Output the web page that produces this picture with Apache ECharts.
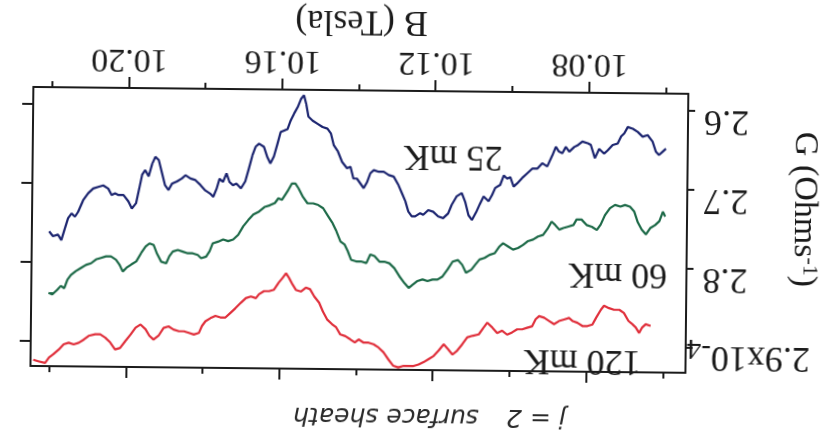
<!DOCTYPE html>
<html>
<head>
<meta charset="utf-8">
<script src="https://cdn.jsdelivr.net/npm/echarts@6/dist/echarts.min.js"></script>
<style>
  html, body { margin: 0; padding: 0; background: #fff; overflow: hidden; }
  #chart { width: 838px; height: 441px; transform: rotate(180.6deg); transform-origin: 50% 50%; background: #fff; }
</style>
</head>
<body>
<div id="chart"></div>
<script>
// Axis ticks
const fieldMajor = [10.08, 10.12, 10.16, 10.20];
const fieldMinor = [10.06, 10.10, 10.14, 10.18, 10.22];
const condTicks = [2.6, 2.7, 2.8, 2.9];

// 25 mK trace: field B (T) and conductance G (1e-4 ohm^-1)
const b25 = [10.2205,10.2195,10.2182,10.2173,10.2164,10.2156,10.2147,10.2138,10.2130,10.2117,
  10.2104,10.2091,10.2078,10.2065,10.2052,10.2043,10.2034,10.2025,10.2012,10.1999,
  10.1990,10.1979,10.1971,10.1964,10.1956,10.1947,10.1938,10.1930,10.1921,10.1912,
  10.1904,10.1895,10.1886,10.1873,10.1860,10.1851,10.1838,10.1825,10.1812,10.1799,
  10.1786,10.1778,10.1769,10.1762,10.1753,10.1744,10.1736,10.1727,10.1718,10.1706,
  10.1695,10.1686,10.1677,10.1669,10.1660,10.1647,10.1638,10.1630,10.1621,10.1612,
  10.1604,10.1595,10.1586,10.1578,10.1569,10.1560,10.1551,10.1544,10.1538,10.1532,
  10.1521,10.1508,10.1495,10.1482,10.1473,10.1465,10.1454,10.1443,10.1430,10.1421,
  10.1413,10.1404,10.1395,10.1386,10.1377,10.1369,10.1360,10.1347,10.1334,10.1321,
  10.1308,10.1295,10.1286,10.1277,10.1269,10.1260,10.1251,10.1238,10.1230,10.1217,
  10.1204,10.1191,10.1178,10.1165,10.1156,10.1143,10.1130,10.1121,10.1112,10.1103,
  10.1092,10.1082,10.1073,10.1060,10.1051,10.1043,10.1030,10.1021,10.1012,10.1004,
  10.0995,10.0986,10.0973,10.0960,10.0947,10.0934,10.0921,10.0908,10.0895,10.0886,
  10.0878,10.0869,10.0860,10.0851,10.0838,10.0830,10.0817,10.0803,10.0795,10.0784,
  10.0773,10.0760,10.0751,10.0738,10.0725,10.0716,10.0708,10.0699,10.0686,10.0673,
  10.0660,10.0647,10.0634,10.0625,10.0617,10.0608,10.0599];
const g25 = [2.761,2.767,2.765,2.772,2.757,2.744,2.738,2.742,2.736,2.721,
  2.712,2.706,2.704,2.702,2.706,2.714,2.712,2.714,2.714,2.722,
  2.731,2.724,2.705,2.688,2.682,2.690,2.674,2.665,2.669,2.686,
  2.701,2.707,2.699,2.696,2.692,2.688,2.692,2.694,2.700,2.707,
  2.711,2.715,2.704,2.692,2.696,2.685,2.696,2.700,2.698,2.704,
  2.695,2.679,2.662,2.651,2.647,2.651,2.664,2.672,2.663,2.647,
  2.632,2.630,2.628,2.617,2.608,2.600,2.589,2.585,2.596,2.612,
  2.617,2.621,2.625,2.627,2.633,2.648,2.656,2.669,2.677,2.675,
  2.690,2.690,2.696,2.702,2.694,2.683,2.679,2.681,2.681,2.685,
  2.687,2.698,2.708,2.718,2.731,2.737,2.737,2.733,2.735,2.729,
  2.731,2.737,2.739,2.733,2.722,2.711,2.707,2.718,2.735,2.741,
  2.731,2.720,2.711,2.717,2.709,2.700,2.696,2.684,2.688,2.686,
  2.698,2.694,2.687,2.681,2.675,2.675,2.668,2.672,2.658,2.647,
  2.653,2.655,2.647,2.653,2.647,2.645,2.640,2.642,2.644,2.661,
  2.649,2.655,2.651,2.644,2.642,2.633,2.629,2.621,2.623,2.627,
  2.633,2.631,2.639,2.652,2.656,2.652,2.648];

// 60 mK trace
const b60 = [10.2205,10.2195,10.2182,10.2173,10.2164,10.2156,10.2147,10.2134,10.2121,10.2108,
  10.2095,10.2082,10.2069,10.2056,10.2043,10.2030,10.2021,10.2012,10.2002,10.1990,
  10.1977,10.1964,10.1953,10.1943,10.1932,10.1924,10.1912,10.1899,10.1891,10.1882,
  10.1869,10.1856,10.1843,10.1830,10.1817,10.1808,10.1795,10.1786,10.1778,10.1765,
  10.1751,10.1738,10.1725,10.1712,10.1699,10.1686,10.1673,10.1658,10.1643,10.1630,
  10.1617,10.1608,10.1599,10.1591,10.1582,10.1573,10.1564,10.1556,10.1544,10.1532,
  10.1517,10.1504,10.1491,10.1478,10.1466,10.1456,10.1445,10.1434,10.1426,10.1417,
  10.1404,10.1391,10.1377,10.1367,10.1356,10.1343,10.1330,10.1317,10.1304,10.1291,
  10.1277,10.1266,10.1256,10.1243,10.1230,10.1217,10.1204,10.1191,10.1178,10.1165,
  10.1152,10.1138,10.1127,10.1117,10.1103,10.1092,10.1082,10.1069,10.1056,10.1043,
  10.1030,10.1021,10.1008,10.0995,10.0982,10.0969,10.0956,10.0943,10.0930,10.0917,
  10.0904,10.0895,10.0886,10.0875,10.0864,10.0851,10.0838,10.0830,10.0817,10.0803,
  10.0790,10.0777,10.0767,10.0756,10.0743,10.0730,10.0716,10.0704,10.0691,10.0680,
  10.0671,10.0660,10.0649,10.0638,10.0625,10.0614,10.0605,10.0599];
const g60 = [2.839,2.841,2.835,2.830,2.833,2.822,2.816,2.811,2.807,2.803,
  2.801,2.796,2.794,2.792,2.792,2.796,2.802,2.811,2.806,2.802,
  2.798,2.787,2.779,2.775,2.777,2.787,2.798,2.800,2.791,2.785,
  2.783,2.785,2.787,2.787,2.789,2.793,2.791,2.784,2.774,2.772,
  2.769,2.771,2.769,2.763,2.752,2.744,2.737,2.733,2.727,2.725,
  2.722,2.716,2.718,2.712,2.705,2.697,2.697,2.703,2.714,2.722,
  2.722,2.724,2.728,2.738,2.747,2.757,2.770,2.774,2.782,2.793,
  2.795,2.795,2.797,2.786,2.788,2.795,2.795,2.797,2.803,2.813,
  2.822,2.828,2.824,2.819,2.817,2.819,2.817,2.817,2.813,2.804,
  2.794,2.792,2.798,2.808,2.804,2.797,2.791,2.789,2.785,2.783,
  2.774,2.770,2.774,2.778,2.776,2.772,2.767,2.765,2.761,2.759,
  2.750,2.742,2.746,2.752,2.750,2.748,2.746,2.739,2.739,2.746,
  2.748,2.752,2.745,2.733,2.724,2.720,2.722,2.720,2.722,2.728,
  2.741,2.751,2.757,2.749,2.745,2.740,2.728,2.734];

// 120 mK trace
const b120 = [10.2243,10.2230,10.2212,10.2202,10.2191,10.2177,10.2164,10.2151,10.2138,10.2125,
  10.2112,10.2099,10.2082,10.2069,10.2056,10.2043,10.2030,10.2017,10.2003,10.1990,
  10.1977,10.1964,10.1951,10.1941,10.1930,10.1917,10.1904,10.1891,10.1878,10.1864,
  10.1851,10.1838,10.1825,10.1812,10.1804,10.1795,10.1782,10.1769,10.1756,10.1743,
  10.1730,10.1717,10.1703,10.1690,10.1677,10.1664,10.1656,10.1643,10.1630,10.1617,
  10.1605,10.1595,10.1586,10.1578,10.1569,10.1560,10.1547,10.1534,10.1523,10.1512,
  10.1499,10.1489,10.1478,10.1465,10.1454,10.1443,10.1430,10.1417,10.1405,10.1395,
  10.1382,10.1369,10.1356,10.1343,10.1330,10.1317,10.1304,10.1291,10.1277,10.1264,
  10.1251,10.1238,10.1225,10.1212,10.1199,10.1186,10.1173,10.1162,10.1150,10.1138,
  10.1125,10.1112,10.1099,10.1082,10.1069,10.1060,10.1047,10.1034,10.1021,10.1008,
  10.0995,10.0982,10.0969,10.0956,10.0943,10.0934,10.0925,10.0912,10.0899,10.0886,
  10.0873,10.0860,10.0847,10.0837,10.0825,10.0812,10.0799,10.0786,10.0776,10.0764,
  10.0756,10.0743,10.0730,10.0716,10.0704,10.0692,10.0682,10.0673,10.0664,10.0656,
  10.0647,10.0634];
const g120 = [2.924,2.926,2.928,2.921,2.917,2.911,2.904,2.902,2.904,2.902,
  2.898,2.893,2.891,2.891,2.895,2.901,2.910,2.908,2.899,2.891,
  2.882,2.878,2.884,2.892,2.897,2.892,2.882,2.880,2.884,2.886,
  2.886,2.888,2.890,2.888,2.879,2.873,2.869,2.866,2.868,2.868,
  2.862,2.856,2.849,2.843,2.841,2.843,2.838,2.834,2.834,2.832,
  2.823,2.817,2.811,2.817,2.825,2.832,2.834,2.829,2.831,2.840,
  2.848,2.859,2.869,2.875,2.879,2.888,2.890,2.894,2.898,2.894,
  2.898,2.898,2.900,2.904,2.910,2.919,2.927,2.929,2.927,2.927,
  2.927,2.925,2.922,2.918,2.914,2.907,2.899,2.905,2.912,2.907,
  2.899,2.890,2.888,2.886,2.877,2.871,2.877,2.884,2.881,2.886,
  2.883,2.879,2.879,2.877,2.875,2.866,2.862,2.864,2.868,2.872,
  2.868,2.866,2.864,2.868,2.870,2.874,2.874,2.872,2.863,2.853,
  2.848,2.851,2.853,2.853,2.857,2.867,2.871,2.875,2.882,2.875,
  2.871,2.873];

const traceNames = ['25 mK', '60 mK', '120 mK'];
const traceColors = ['#1c2570', '#1d6a48', '#e0303c'];

const serif = '"Liberation Serif", "Times New Roman", serif';
const ink = '#1b1b1b';
const pairs = (xs, ys) => xs.map((x, i) => [x, ys[i]]);

const chart = echarts.init(document.getElementById('chart'));

const fieldRange = { min: 10.0542, max: 10.2250 };
const condRange = { min: 2.578, max: 2.932 };
const frame = { color: ink, width: 2 };

function fieldAxis(position, ticks, len, withLine) {
  return {
    type: 'value', gridIndex: 0, position,
    min: fieldRange.min, max: fieldRange.max,
    splitLine: { show: false },
    axisLine: { show: withLine, onZero: false, lineStyle: frame },
    axisTick: { show: true, customValues: ticks, length: len, inside: false, lineStyle: frame },
    axisLabel: { show: false }
  };
}

const bottomMain = fieldAxis('bottom', fieldMajor, 11, true);
bottomMain.axisLabel = {
  show: true, customValues: fieldMajor, margin: 12,
  formatter: v => v.toFixed(2),
  fontFamily: serif, fontSize: 34, color: ink
};
bottomMain.name = 'B (Tesla)';
bottomMain.nameLocation = 'middle';
bottomMain.nameGap = 52;
bottomMain.nameMoveOverlap = false;
bottomMain.nameTextStyle = { fontFamily: serif, fontSize: 36, color: ink };

const option = {
  animation: false,
  backgroundColor: '#fff',
  grid: { left: 151, right: 32, top: 71, bottom: 91, containLabel: false, outerBoundsMode: 'none' },
  xAxis: [
    bottomMain,
    fieldAxis('bottom', fieldMinor, 6, false),
    fieldAxis('top', fieldMajor, 11, true),
    fieldAxis('top', fieldMinor, 6, false)
  ],
  yAxis: [
    {
      type: 'value', gridIndex: 0, position: 'left',
      min: condRange.min, max: condRange.max,
      splitLine: { show: false },
      axisLine: { show: true, onZero: false, lineStyle: frame },
      axisTick: { show: true, customValues: condTicks, length: 7, lineStyle: frame },
      axisLabel: {
        show: true, customValues: condTicks, margin: 1,
        formatter: v => Math.abs(v - 2.9) < 1e-6 ? '{m|2.9x10}{s|-4}' : '{n|' + v.toFixed(1) + '}',
        rich: {
          n: { fontFamily: serif, fontSize: 36, color: ink, padding: [0, 15, 18, 0] },
          m: { fontFamily: serif, fontSize: 36, color: ink, padding: [0, 0, 18, 0] },
          s: { fontFamily: serif, fontSize: 29, color: ink }
        }
      },
      name: '{n|G (Ohms}{s|-1}{n|)}',
      nameLocation: 'middle', nameRotate: 90, nameGap: 100,
      nameMoveOverlap: false,
      nameTextStyle: {
        padding: [0, 50, 0, 0],
        rich: {
          n: { fontFamily: serif, fontSize: 34, color: ink },
          s: { fontFamily: serif, fontSize: 22, color: ink, verticalAlign: 'top' }
        }
      }
    },
    {
      type: 'value', gridIndex: 0, position: 'right',
      min: condRange.min, max: condRange.max,
      splitLine: { show: false },
      axisLine: { show: true, onZero: false, lineStyle: frame },
      axisTick: { show: true, customValues: condTicks, length: 11, lineStyle: frame },
      axisLabel: { show: false }
    }
  ],
  series: [
    [b25, g25], [b60, g60], [b120, g120]
  ].map(([xs, ys], i) => ({
    name: traceNames[i], type: 'line', xAxisIndex: 0, yAxisIndex: 0,
    data: pairs(xs, ys), showSymbol: false, symbol: 'none',
    lineStyle: { color: traceColors[i], width: 2.2 },
    silent: true
  }))
};

chart.setOption(option);

// Temperature captions placed in data coordinates next to each trace
const captionAnchors = [[10.1154, 2.660], [10.0721, 2.807], [10.0812, 2.917]];
const captions = captionAnchors.map((p, i) => {
  const [x, y] = chart.convertToPixel({ gridIndex: 0 }, p);
  return {
    type: 'text', x, y, silent: true,
    style: { text: traceNames[i], font: '36px ' + serif, fill: ink, align: 'center', verticalAlign: 'middle' }
  };
});

// Handwritten note above the frame
const noteFont = 'italic 25px "DejaVu Sans", sans-serif';
captions.push(
  { type: 'text', x: 300, y: 25, silent: true,
    style: { text: 'j = 2', font: noteFont, fill: '#2a2a2a', align: 'center', verticalAlign: 'middle' } },
  { type: 'text', x: 450, y: 25, silent: true,
    style: { text: 'surface sheath', font: noteFont, fill: '#2a2a2a', align: 'center', verticalAlign: 'middle' } }
);

chart.setOption({ graphic: captions });
</script>
</body>
</html>
